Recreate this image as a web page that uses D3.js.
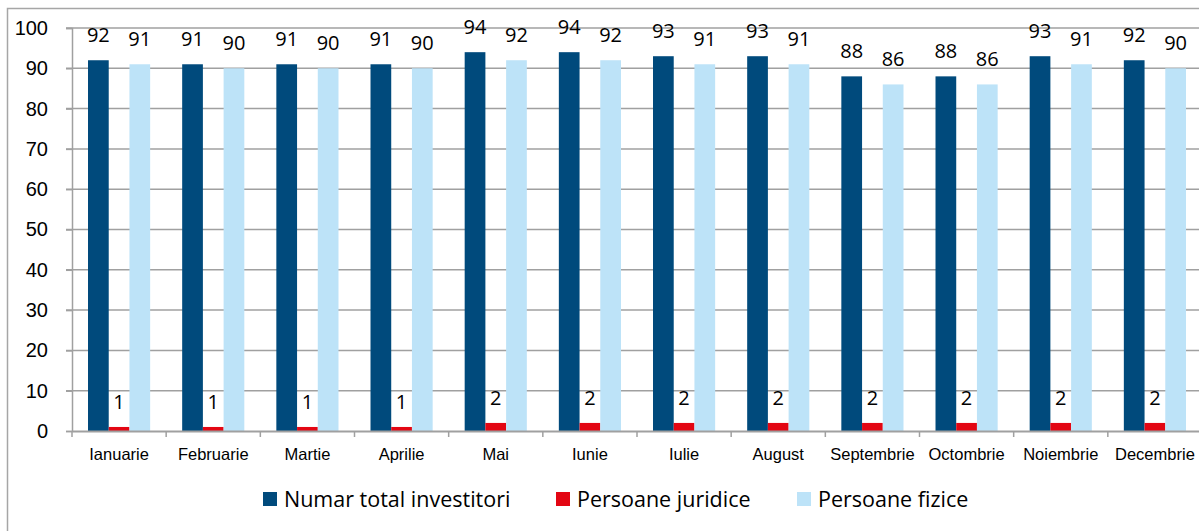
<!DOCTYPE html>
<html>
<head>
<meta charset="utf-8">
<script src="https://cdn.jsdelivr.net/npm/d3@7"></script>
<style>
  body { margin: 0; background: #fff; }
  svg { display: block; font-family: "Open Sans", Lato, sans-serif; }
</style>
</head>
<body>
<script>
const months = ["Ianuarie","Februarie","Martie","Aprilie","Mai","Iunie","Iulie","August","Septembrie","Octombrie","Noiembrie","Decembrie"];
const seriesNames = ["Numar total investitori","Persoane juridice","Persoane fizice"];
const total = [92,91,91,91,94,94,93,93,88,88,93,92];
const juridice = [1,1,1,1,2,2,2,2,2,2,2,2];
const fizice = [91,90,90,90,92,92,91,91,86,86,91,90];
const yTicks = [0,10,20,30,40,50,60,70,80,90,100];
const colors = ["#004a7c","#e30613","#bde3f8"];

const width = 1199, height = 531;
const svg = d3.select("body").append("svg")
    .attr("width", width)
    .attr("height", height);

// outer frame
svg.append("rect")
    .attr("x", 7.5).attr("y", 8.5)
    .attr("width", width).attr("height", height)
    .attr("fill", "none")
    .attr("stroke", "#a6a6a6")
    .attr("stroke-width", 1.5);

const plotLeft = 72, plotRight = 1202, plotTop = 28, plotBottom = 431;

const x = d3.scaleBand().domain(months).range([plotLeft, plotRight]).paddingInner(0).paddingOuter(0);
const inner = d3.scaleBand().domain(d3.range(3)).range([0, x.bandwidth() * 0.66]);
const y = d3.scaleLinear().domain([0, 100]).range([plotBottom, plotTop]);

// gridlines
svg.append("g").selectAll("line")
    .data(yTicks.filter(d => d > 0))
    .enter().append("line")
    .attr("x1", plotLeft - 6).attr("x2", width)
    .attr("y1", d => y(d)).attr("y2", d => y(d))
    .attr("stroke", "#a0a0a0")
    .attr("stroke-width", 1.5);

// y axis
const yAxis = svg.append("g")
    .attr("transform", `translate(${plotLeft},0)`)
    .call(d3.axisLeft(y).tickValues(yTicks).tickSize(6).tickPadding(18));
yAxis.select(".domain").attr("stroke", "#a0a0a0").attr("stroke-width", 1.5);
yAxis.selectAll(".tick line").attr("stroke", "#a0a0a0").attr("stroke-width", 1.5);
yAxis.selectAll("text").attr("font-size", 20).attr("fill", "#000");

// bars
const series = [total, juridice, fizice];
const offset = (x.bandwidth() - x.bandwidth() * 0.66) / 2;
series.forEach((vals, si) => {
    const g = svg.append("g");
    g.selectAll("rect")
        .data(vals)
        .enter().append("rect")
        .attr("x", (d, i) => x(months[i]) + offset + inner(si))
        .attr("y", d => y(d))
        .attr("width", inner.bandwidth())
        .attr("height", d => y(0) - y(d))
        .attr("fill", colors[si]);
    g.selectAll("text")
        .data(vals)
        .enter().append("text")
        .attr("x", (d, i) => x(months[i]) + offset + inner(si) + inner.bandwidth() / 2)
        .attr("y", d => y(d) - 18)
        .attr("text-anchor", "middle")
        .attr("font-size", 20)
        .attr("fill", "#000")
        .text(d => d);
});

// x axis
const xAxis = svg.append("g")
    .attr("transform", `translate(0,${plotBottom})`)
    .call(d3.axisBottom(x).tickSize(0).tickPadding(17));
xAxis.select(".domain").attr("stroke", "#a0a0a0").attr("stroke-width", 2);
xAxis.selectAll("text").attr("font-size", 16.5).attr("fill", "#000");
xAxis.selectAll(".sep")
    .data(months)
    .enter().append("line")
    .attr("class", "sep")
    .attr("x1", d => x(d)).attr("x2", d => x(d))
    .attr("y1", 0).attr("y2", 6)
    .attr("stroke", "#a0a0a0")
    .attr("stroke-width", 1.5);

// legend
const legendX = [263, 556, 797];
const legend = svg.append("g");
seriesNames.forEach((name, i) => {
    legend.append("rect")
        .attr("x", legendX[i]).attr("y", 492)
        .attr("width", 14).attr("height", 14)
        .attr("fill", colors[i]);
    legend.append("text")
        .attr("x", legendX[i] + 21).attr("y", 507)
        .attr("font-size", 21.5)
        .attr("fill", "#000")
        .text(name);
});
</script>
</body>
</html>
